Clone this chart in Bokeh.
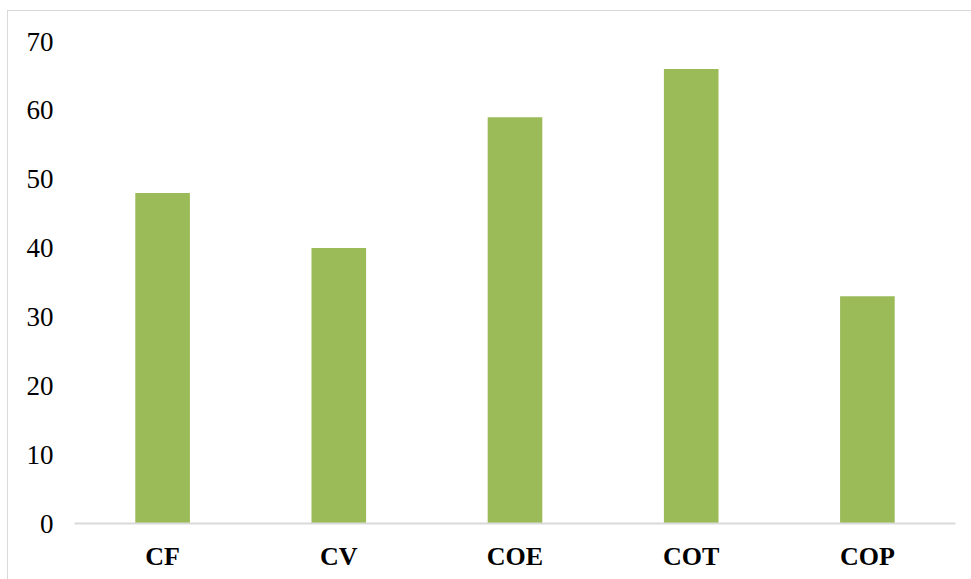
from bokeh.plotting import figure
from bokeh.embed import file_html
from bokeh.resources import INLINE
from bokeh.models import FixedTicker, ColumnDataSource

categories = ["CF", "CV", "COE", "COT", "COP"]
values = [48, 40, 59, 66, 33]
y_ticks = [0, 10, 20, 30, 40, 50, 60, 70]

src = ColumnDataSource(data=dict(cat=categories, val=values))

p = figure(x_range=categories, y_range=(0, 70), width=964, height=569,
           output_backend="svg", toolbar_location=None,
           min_border_left=66, min_border_right=17, min_border_top=30, min_border_bottom=57)
p.styles = {"margin-left": "7px", "margin-top": "10px",
            "border-left": "1px solid #d9d9d9", "border-top": "1px solid #d9d9d9"}

p.vbar(x="cat", top="val", width=0.31, source=src, color="#9BBB59", line_color=None)

p.outline_line_color = None
p.xgrid.grid_line_color = None
p.ygrid.grid_line_color = None
p.x_range.range_padding = 0

p.yaxis.ticker = FixedTicker(ticks=y_ticks)
p.yaxis.axis_line_color = None
p.yaxis.major_tick_line_color = None
p.yaxis.minor_tick_line_color = None
p.yaxis.major_label_text_font = "Liberation Serif"
p.yaxis.major_label_text_font_size = "27px"
p.yaxis.major_label_text_color = "#000000"
p.yaxis.major_label_standoff = 15

p.xaxis.axis_line_color = "#d9d9d9"
p.xaxis.axis_line_width = 2
p.xaxis.major_tick_line_color = None
p.xaxis.minor_tick_line_color = None
p.xaxis.major_label_text_font = "Liberation Serif"
p.xaxis.major_label_text_font_style = "bold"
p.xaxis.major_label_text_font_size = "26px"
p.xaxis.major_label_text_color = "#000000"
p.xaxis.major_label_standoff = 12

open("out.html", "w").write(file_html(p, INLINE))
